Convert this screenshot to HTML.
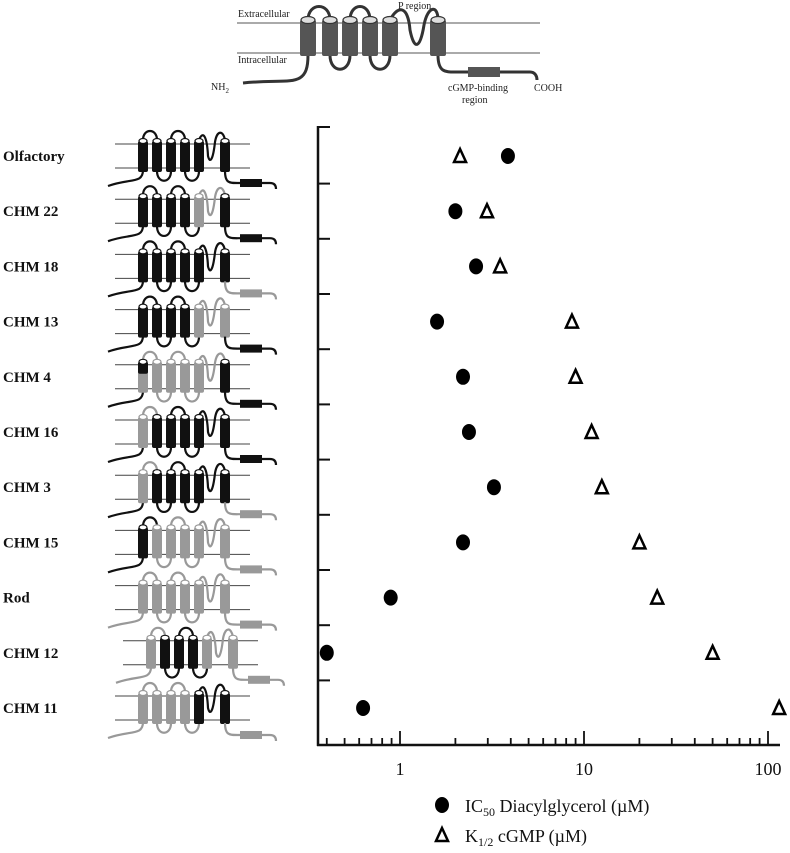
<!DOCTYPE html>
<html><head><meta charset="utf-8"><style>
body{margin:0;background:#fff}
svg{display:block}
text{font-family:"Liberation Serif",serif}
</style></head><body>
<svg id="c" width="790" height="853" viewBox="0 0 790 853" xmlns="http://www.w3.org/2000/svg"></svg>
<script>
const rows=["Olfactory","CHM 22","CHM 18","CHM 13","CHM 4","CHM 16","CHM 3","CHM 15","Rod","CHM 12","CHM 11"];
const ic50=[3.86,2.0,2.59,1.59,2.2,2.37,3.24,2.2,0.89,0.40,0.63];
const k12=[2.12,2.97,3.5,8.6,9.0,11.0,12.5,20,25,50,115];
const xTickLabels=["1","10","100"];
// colors: N-tail, h1..h6, C-tail (b=black, g=gray, h=half)
const schemes=["bbbbbbbb","bbbbbgbb","bbbbbbbg","bbbbbggb","bhggggbb","bgbbbbbb","bgbbbbbg","bbgggggg","gggggggg","ggbbbggg","gggggbbg"];
const svg=document.getElementById('c');const NS="http://www.w3.org/2000/svg";
function E(t,a,p){const e=document.createElementNS(NS,t);for(const k in a)e.setAttribute(k,a[k]);(p||svg).appendChild(e);return e;}
function T(parent,str,attrs){const e=E('tspan',attrs||{},parent);e.textContent=str;return e;}
const xs=v=>400+184*Math.log10(v);
const ys=i=>156+i*55.2;
const col=c=>c==='b'?'#111':'#999';
function schematic(cy,sch,ox,g){
  const s=sch.split('');
  E('line',{x1:ox+115,y1:cy-12,x2:ox+250,y2:cy-12,stroke:'#444','stroke-width':1},g);
  E('line',{x1:ox+115,y1:cy+12,x2:ox+250,y2:cy+12,stroke:'#444','stroke-width':1},g);
  const hx=[143,157,171,185,199,225].map(v=>v+ox);
  E('path',{d:`M${hx[0]},${cy+14} C${hx[0]},${cy+28} ${ox+130},${cy+22} ${ox+108},${cy+30}`,stroke:col(s[0]),'stroke-width':2.2,fill:'none'},g);
  for(let k=0;k<5;k++){const a=hx[k],b=hx[k+1];const up=k%2===0;
    if(k===4){E('path',{d:`M${a},${cy-16} C${a+4},${cy-26} ${a+8},${cy-20} ${a+9},${cy} C${a+11},${cy+8} ${a+14},${cy+4} ${a+16},${cy-14} C${a+18},${cy-26} ${b-2},${cy-26} ${b},${cy-16}`,stroke:col(s[5]),'stroke-width':2.2,fill:'none'},g);}
    else if(up)E('path',{d:`M${a},${cy-16} C${a},${cy-28} ${b},${cy-28} ${b},${cy-16}`,stroke:col(s[k+1]),'stroke-width':2.2,fill:'none'},g);
    else E('path',{d:`M${a},${cy+15} C${a},${cy+28} ${b},${cy+28} ${b},${cy+15}`,stroke:col(s[k+1]),'stroke-width':2.2,fill:'none'},g);}
  hx.forEach((h,k)=>{const c=s[k+1];
    if(c==='h'){E('rect',{x:h-5,y:cy-15,width:10,height:31,fill:'#999',rx:2},g);E('rect',{x:h-5,y:cy-15,width:10,height:12,fill:'#111',rx:2},g);}
    else E('rect',{x:h-5,y:cy-15,width:10,height:31,fill:col(c),rx:2},g);
    E('ellipse',{cx:h,cy:cy-15,rx:4,ry:2.5,fill:'#fff',stroke:col(c==='h'?'b':c),'stroke-width':1.2},g);});
  const tc=col(s[7]);
  E('path',{d:`M${hx[5]},${cy+15} C${hx[5]},${cy+28} ${ox+230},${cy+27} ${ox+240},${cy+27} L${ox+270},${cy+27} C${ox+275},${cy+27} ${ox+276},${cy+30} ${ox+276},${cy+33}`,stroke:tc,'stroke-width':2.2,fill:'none'},g);
  E('rect',{x:ox+240,y:cy+23,width:22,height:8,fill:tc},g);
}
// top schematic
const topG=E('g',{});
E('line',{x1:237,y1:23,x2:540,y2:23,stroke:'#555'},topG);E('line',{x1:237,y1:53,x2:540,y2:53,stroke:'#555'},topG);
const th=[308,330,350,370,390,438];
for(let k=0;k<5;k++){const a=th[k],b=th[k+1];
 if(k===4)E('path',{d:`M${a},20 C${a+8},5 ${a+18},5 ${a+20},30 C${a+24},50 ${a+30},50 ${a+34},25 C${a+38},5 ${b},5 ${b},20`,stroke:'#333','stroke-width':3,fill:'none'},topG);
 else if(k%2===0)E('path',{d:`M${a},20 C${a},2 ${b},2 ${b},20`,stroke:'#333','stroke-width':3,fill:'none'},topG);
 else E('path',{d:`M${a},55 C${a},74 ${b},74 ${b},55`,stroke:'#333','stroke-width':3,fill:'none'},topG);}
E('path',{d:'M308,55 C308,90 290,78 243,83',stroke:'#333','stroke-width':3,fill:'none'},topG);
E('path',{d:'M438,55 C438,72 445,72 455,72 L530,72 C535,72 537,76 537,80',stroke:'#333','stroke-width':3,fill:'none'},topG);
E('rect',{x:468,y:67,width:32,height:10,fill:'#555'},topG);
th.forEach(h=>{E('rect',{x:h-8,y:20,width:16,height:36,fill:'#555',rx:2},topG);E('ellipse',{cx:h,cy:20,rx:7,ry:3.5,fill:'#ddd',stroke:'#333','stroke-width':1.2},topG);});
[["Extracellular",238,17],["Intracellular",238,63],["P region",398,9],["cGMP-binding",448,91],["region",462,103],["COOH",534,91]].forEach(t=>{const e=E('text',{x:t[1],y:t[2],'font-size':10,fill:'#222'},topG);e.textContent=t[0];});
const nh=E('text',{x:211,y:90,'font-size':10,fill:'#222'},topG);T(nh,'NH');T(nh,'2',{'font-size':7,dy:3});
// rows
rows.forEach((r,i)=>{
 const t=E('text',{x:3,y:ys(i)+5,'font-size':15,'font-weight':'bold',fill:'#111'});
 
 
 t.textContent=r;
 const g=E('g',{});
 
 
 schematic(ys(i),schemes[i],i===9?8:0,g);
});
// axes
const ax=E('g',{});
E('line',{x1:318,y1:126,x2:318,y2:746,stroke:'#111','stroke-width':2.5},ax);
E('line',{x1:317,y1:745,x2:780,y2:745,stroke:'#111','stroke-width':2.5},ax);
E('line',{x1:318,y1:127,x2:330,y2:127,stroke:'#111','stroke-width':2},ax);
for(let i=0;i<rows.length-1;i++){E('line',{x1:318,y1:ys(i)+27.6,x2:330,y2:ys(i)+27.6,stroke:'#111','stroke-width':2},ax);}
for(let d=-1;d<=2;d++)for(let m=1;m<=9;m++){const v=m*Math.pow(10,d);if(v<0.36||v>101)continue;const X=xs(v);const L=m===1?14:7;E('line',{x1:X,y1:745,x2:X,y2:745-L,stroke:'#111','stroke-width':1.8},ax);}
xTickLabels.forEach(l=>{const e=E('text',{x:xs(+l),y:775,'font-size':18,'text-anchor':'middle',fill:'#111'},ax);e.textContent=l;});
// marks
ic50.forEach((v,i)=>{const c=E('ellipse',{cx:xs(v),cy:ys(i),rx:7,ry:8,fill:'#000'});
 
 });
k12.forEach((v,i)=>{const X=xs(v),Y=ys(i);const p=E('path',{d:`M${X},${Y-7} L${X+6},${Y+6} L${X-6},${Y+6} Z`,fill:'none',stroke:'#000','stroke-width':2.5});
 
 });
// legend
const lg=E('g',{});
E('ellipse',{cx:442,cy:805,rx:7,ry:8,fill:'#000'},lg);
E('path',{d:'M442,828 L448,841 L436,841 Z',fill:'none',stroke:'#000','stroke-width':2.5},lg);
const l1=E('text',{x:465,y:812,'font-size':18,fill:'#111'},lg);T(l1,'IC');T(l1,'50',{'font-size':12,dy:4});T(l1,' Diacylglycerol (µM)',{dy:-4});
const l2=E('text',{x:465,y:842,'font-size':18,fill:'#111'},lg);T(l2,'K');T(l2,'1/2',{'font-size':12,dy:4});T(l2,' cGMP (µM)',{dy:-4});
</script>
</body></html>
